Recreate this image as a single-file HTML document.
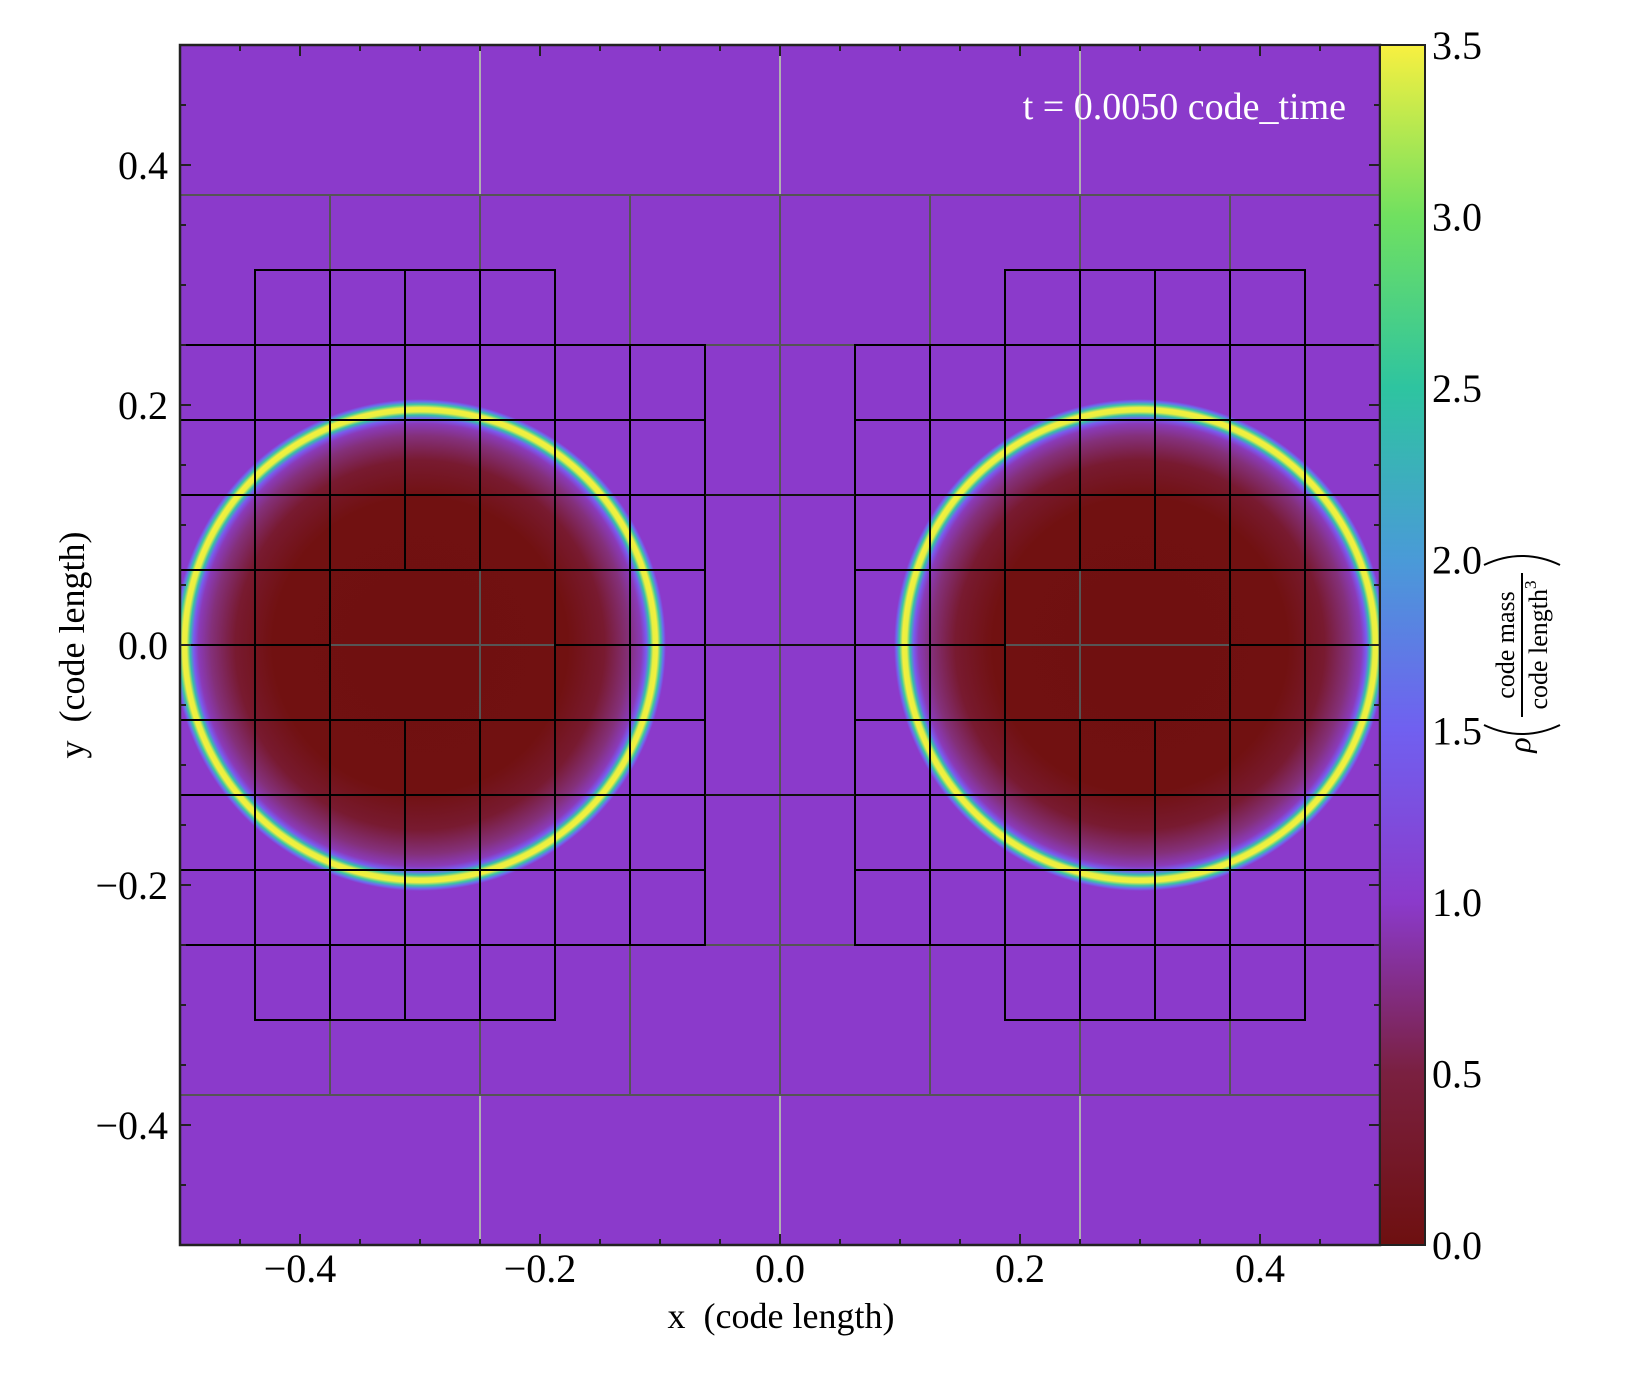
<!DOCTYPE html>
<html><head><meta charset="utf-8"><style>
html,body{margin:0;padding:0;background:#fff;}
svg{display:block;font-family:"Liberation Serif",serif;}
</style></head><body>
<svg id="fig" width="1627" height="1380" viewBox="0 0 1627 1380">
<defs>
<radialGradient id="blobGrad" gradientUnits="objectBoundingBox" cx="0.5" cy="0.5" r="0.5">
<stop offset="0" stop-color="#701010"/>
<stop offset="0.6" stop-color="#711111"/>
<stop offset="0.75" stop-color="#781a30"/>
<stop offset="0.85" stop-color="#84307a"/>
<stop offset="0.9" stop-color="#8a3ab8"/>
<stop offset="0.92" stop-color="#7a5af0"/>
<stop offset="0.935" stop-color="#35c0a8"/>
<stop offset="0.948" stop-color="#e8f040"/>
<stop offset="0.965" stop-color="#f5ef3e"/>
<stop offset="0.978" stop-color="#3cc8a0"/>
<stop offset="0.99" stop-color="#6d6af0"/>
<stop offset="1" stop-color="#8b3acb"/>
</radialGradient>
<linearGradient id="cbGrad" x1="0" y1="1" x2="0" y2="0">
<stop offset="0" stop-color="#6e1010"/>
<stop offset="0.143" stop-color="#7a2040"/>
<stop offset="0.286" stop-color="#8b3acb"/>
<stop offset="0.43" stop-color="#7060f0"/>
<stop offset="0.57" stop-color="#4a9ad8"/>
<stop offset="0.714" stop-color="#2ec4a0"/>
<stop offset="0.857" stop-color="#70e060"/>
<stop offset="1" stop-color="#f8f040"/>
</linearGradient>
<clipPath id="plotClip"><rect x="180" y="45" width="1200" height="1200"/></clipPath>
</defs>
<g id="plot" clip-path="url(#plotClip)"></g>
<g id="axes"></g>
<text x="1346" y="119" fill="#fff" font-size="38" text-anchor="end">t = 0.0050 code_time</text>
<text x="781" y="1328" font-size="36" text-anchor="middle" xml:space="preserve">x  (code length)</text>
<text transform="translate(84,645) rotate(-90)" font-size="36" text-anchor="middle" xml:space="preserve">y  (code length)</text>
<rect x="1380" y="45" width="45" height="1200" fill="url(#cbGrad)" stroke="#222" stroke-width="2"/>
<g transform="translate(1522,645) rotate(-90)">
<text x="-100" y="8" font-size="32" font-style="italic" text-anchor="middle">ρ</text>
<text x="0" y="-8" font-size="26" text-anchor="middle">code mass</text>
<line x1="-72" y1="0" x2="72" y2="0" stroke="#000" stroke-width="2"/>
<text x="0" y="25" font-size="26" text-anchor="middle">code length<tspan dy="-11" font-size="17">3</tspan></text>
</g>
<g transform="translate(1522,645)">
<path d="M -38 -80 Q 0 -98 38 -80" fill="none" stroke="#000" stroke-width="2"/>
<path d="M -38 80 Q 0 98 38 80" fill="none" stroke="#000" stroke-width="2"/>
</g>
<script>
const blobCentersX = [-0.3, 0.3];
const blobCentersY = [0, 0];
const blobRadius = 0.205;
const xTicks = [-0.4, -0.2, 0.0, 0.2, 0.4];
const yTicks = [-0.4, -0.2, 0.0, 0.2, 0.4];
const xTickLabels = ["−0.4", "−0.2", "0.0", "0.2", "0.4"];
const yTickLabels = ["−0.4", "−0.2", "0.0", "0.2", "0.4"];
const cbTicks = [0, 0.5, 1.0, 1.5, 2.0, 2.5, 3.0, 3.5];
const cbTickLabels = ["0.0", "0.5", "1.0", "1.5", "2.0", "2.5", "3.0", "3.5"];
const cbMax = 3.5;

const NS = "http://www.w3.org/2000/svg";
const X0 = 180, Y0 = 45, W = 1200, H = 1200;
function sx(v) { return X0 + (v + 0.5) * W; }
function sy(v) { return Y0 + (0.5 - v) * H; }
function sl(d) { return d * W; }
function cy(v) { return 1245 - v / cbMax * 1200; }
function mk(tag, attrs, parent) {
  const e = document.createElementNS(NS, tag);
  for (const k in attrs) e.setAttribute(k, attrs[k]);
  parent.appendChild(e);
  return e;
}
const plot = document.getElementById('plot');
const axes = document.getElementById('axes');

const bg = mk('rect', {x: X0, y: Y0, width: W, height: H, fill: '#8b3acb'}, plot);



for (let i = 0; i < blobCentersX.length; i++) {
  const c = mk('circle', {cx: sx(blobCentersX[i]), cy: sy(blobCentersY[i]), r: sl(blobRadius), fill: 'url(#blobGrad)'}, plot);
  
  
}

[-0.25, 0, 0.25].forEach(v => {
  const l = mk('line', {x1: sx(v), y1: Y0, x2: sx(v), y2: Y0 + H, stroke: '#b0b0b0', 'stroke-width': 2}, plot);
  
  
});
for (let k = -3; k <= 3; k++) {
  const v = k * 0.125;
  const l = mk('line', {x1: sx(v), y1: sy(0.375), x2: sx(v), y2: sy(-0.375), stroke: '#555', 'stroke-width': 2}, plot);
  
  
  const h = mk('line', {x1: X0, y1: sy(v), x2: X0 + W, y2: sy(v), stroke: '#555', 'stroke-width': 2}, plot);
  
  
}
const d = 0.0625;
function inRefined(x, y) {
  const rx = Math.abs(x + d / 2);
  const ay = Math.abs(y + d / 2);
  const inBig = rx > 0.0625 && rx < 0.5 && ay < 0.25;
  const inCap = rx > 0.1875 && rx < 0.4375 && ay < 0.3125;
  const inHole = rx > 0.1875 && rx < 0.375 && ay < 0.0625;
  return (inBig || inCap) && !inHole;
}
for (let i = 0; i < 16; i++) {
  for (let j = 0; j < 16; j++) {
    const x = -0.5 + i * d, y = -0.5 + j * d;
    if (!inRefined(x, y)) continue;
    const r = mk('rect', {x: sx(x), y: sy(y + d), width: sl(d), height: sl(d), fill: 'none', stroke: '#000', 'stroke-width': 2}, plot);
    
    
  }
}
[0.125, 0, -0.125].forEach(v => {
  const h = mk('line', {x1: sx(-0.0625), y1: sy(v), x2: sx(0.0625), y2: sy(v), stroke: '#111', 'stroke-width': 2}, plot);
  
  
});

const fr = mk('rect', {x: X0, y: Y0, width: W, height: H, fill: 'none', stroke: '#222', 'stroke-width': 2.5}, axes);



for (let k = -9; k <= 9; k++) {
  if (k % 4 === 0) continue;
  const v = k * 0.05;
  [[sx(v), Y0 + H, sx(v), Y0 + H - 6], [sx(v), Y0, sx(v), Y0 + 6], [X0, sy(v), X0 + 6, sy(v)], [X0 + W, sy(v), X0 + W - 6, sy(v)]].forEach(p => {
    const t = mk('line', {x1: p[0], y1: p[1], x2: p[2], y2: p[3], stroke: '#222', 'stroke-width': 2}, axes);
    
    
  });
}
xTicks.forEach((v, i) => {
  [[sx(v), Y0 + H, sx(v), Y0 + H - 11], [sx(v), Y0, sx(v), Y0 + 11]].forEach(p => {
    const t = mk('line', {x1: p[0], y1: p[1], x2: p[2], y2: p[3], stroke: '#222', 'stroke-width': 2}, axes);
    
    
  });
  const tx = mk('text', {x: sx(v), y: 1282, 'font-size': 40, 'text-anchor': 'middle'}, axes);
  tx.textContent = xTickLabels[i];
  
  
});
yTicks.forEach((v, i) => {
  [[X0, sy(v), X0 + 11, sy(v)], [X0 + W, sy(v), X0 + W - 11, sy(v)]].forEach(p => {
    const t = mk('line', {x1: p[0], y1: p[1], x2: p[2], y2: p[3], stroke: '#222', 'stroke-width': 2}, axes);
    
    
  });
  const tx = mk('text', {x: 168, y: sy(v) + 14, 'font-size': 40, 'text-anchor': 'end'}, axes);
  tx.textContent = yTickLabels[i];
  
  
});
cbTicks.forEach((v, i) => {
  const t = mk('line', {x1: 1425, y1: cy(v), x2: 1418, y2: cy(v), stroke: '#222', 'stroke-width': 2}, axes);
  
  
  const tx = mk('text', {x: 1432, y: cy(v) + 14, 'font-size': 40}, axes);
  tx.textContent = cbTickLabels[i];
  
  
});
</script>
</svg>
</body></html>
